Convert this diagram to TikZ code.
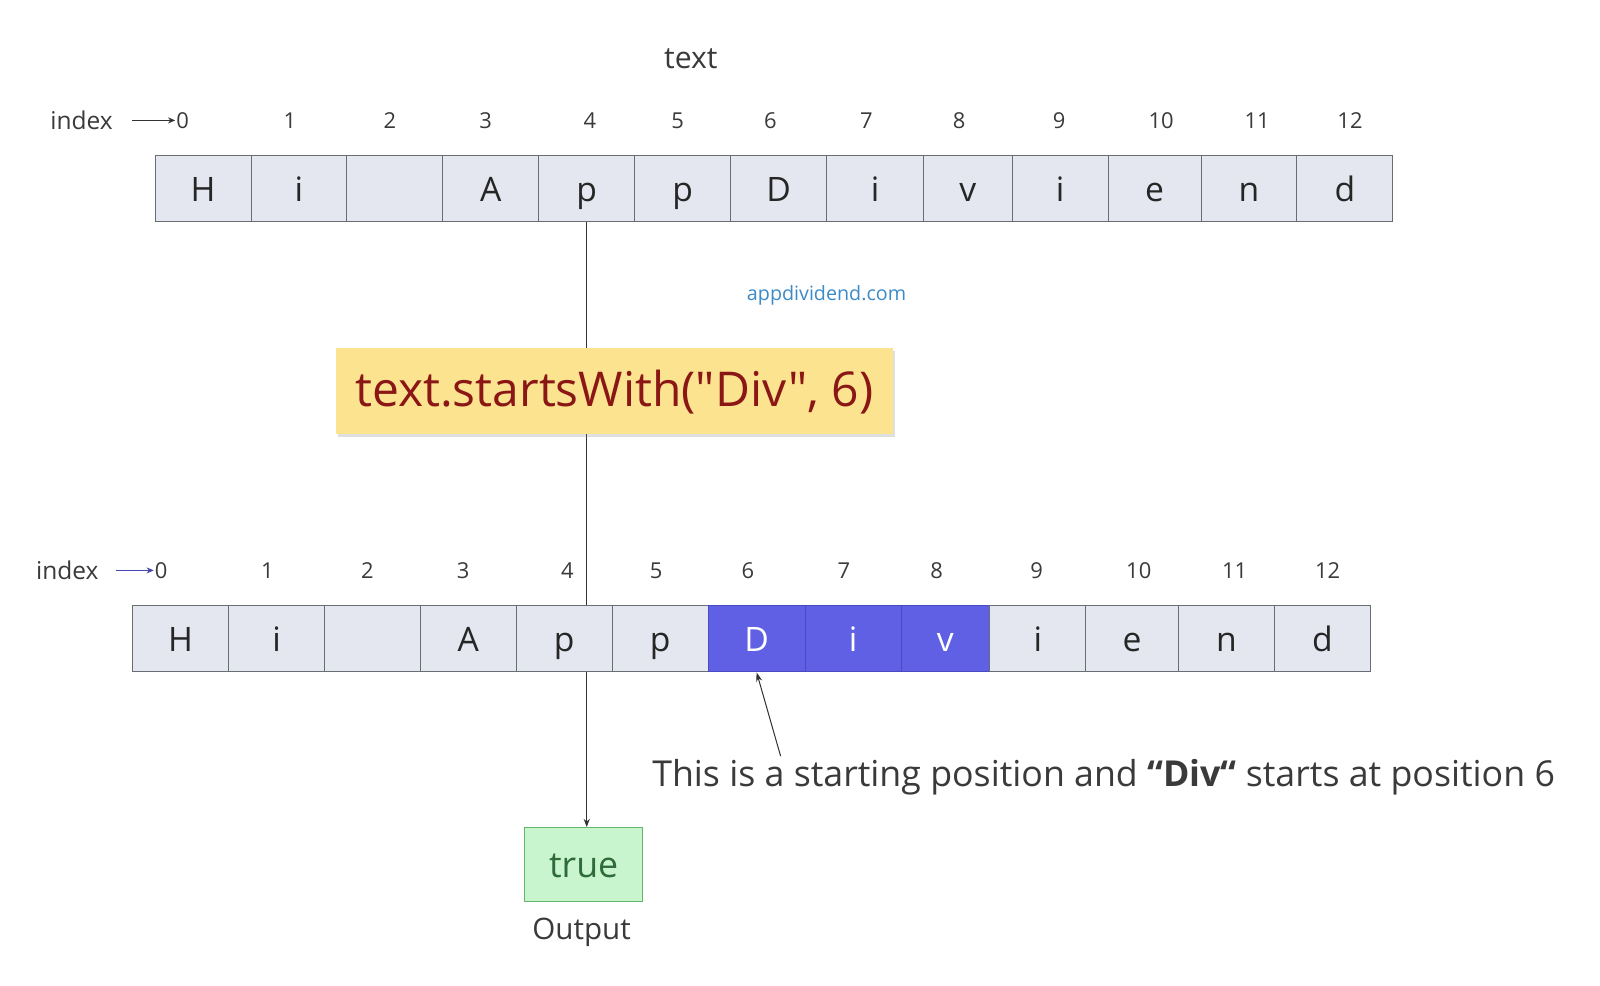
\documentclass[tikz,border=0pt]{standalone}
\usepackage{fontspec}
\setmainfont{Open Sans}
\newfontfamily\codefont{Open Sans}
\usetikzlibrary{arrows.meta,shadows,backgrounds}
\definecolor{cellfill}{HTML}{E4E7EF}
\definecolor{celldraw}{HTML}{686C73}
\definecolor{hifill}{HTML}{5F60E3}
\definecolor{hidraw}{HTML}{4A4BC4}
\definecolor{yelfill}{HTML}{FBE38F}
\definecolor{codered}{HTML}{8A1616}
\definecolor{grnfill}{HTML}{C8F5CE}
\definecolor{grndraw}{HTML}{62B56D}
\definecolor{grntext}{HTML}{2F6B38}
\definecolor{linkblue}{HTML}{3D8BC6}
\definecolor{txtgray}{HTML}{3A3A3A}
\definecolor{idxblue}{HTML}{4545B0}
\tikzset{
  cell/.style={draw=celldraw, line width=0.9pt, fill=cellfill, minimum height=65pt,
    inner sep=0pt, font=\fontsize{33}{33}\selectfont, text=black!85,
    text height=25pt, text depth=0pt},
  hicell/.style={cell, fill=hifill, draw=hidraw, text=white},
  idxnum/.style={font=\fontsize{21.5}{21.5}\selectfont, text=txtgray, inner sep=1pt},
  idxlbl/.style={font=\fontsize{24}{24}\selectfont, text=txtgray, inner sep=1pt},
  codebox/.style={fill=yelfill, minimum width=546pt, minimum height=84pt, inner sep=0pt,
    text=codered, font=\codefont\fontsize{47}{47}\selectfont,
    text height=30pt, text depth=0pt,
    drop shadow={opacity=0.25, shadow xshift=2pt, shadow yshift=-3pt}},
  outbox/.style={fill=grnfill, draw=grndraw, line width=1pt, minimum width=116pt,
    minimum height=72pt, inner sep=0pt, text=grntext, font=\fontsize{35}{35}\selectfont,
    text height=26pt, text depth=0pt},
  plain/.style={inner sep=1pt, text=txtgray},
  conn/.style={draw=black!80, line width=0.9pt},
}
\begin{document}
\begin{tikzpicture}[x=1pt,y=-1pt]
\useasboundingbox (0,0) rectangle (1568,966);
\begin{pgfonlayer}{background}
\fill[white] (0,0) rectangle (1568,966);
\end{pgfonlayer}

% title
\node[plain, font=\fontsize{29.5}{29.5}\selectfont] (title) at (677,58) {text};

% top row index
\node[idxlbl] (tidx) at (80,118) {index};
\foreach \i/\x in {0/179,1/284,2/382,3/476,4/578,5/664,6/755,7/849,8/940,9/1038,10/1138,11/1232,12/1323}{
  \node[idxnum] (tn\i) at (\x,118) {\i};
}
\draw[conn, line width=1pt, -{Stealth[length=7pt,width=6pt]}] ([xshift=18pt]tidx.east) -- (tn0.west);

% top row cells
\foreach \i/\a/\b/\c in {0/152/246/H,1/246/340/i,2/340/434/{},3/434/528/A,4/528/622/p,5/622/716/p,6/716/810/D,7/810/905/i,8/905/992/v,9/992/1086/i,10/1086/1177/e,11/1177/1271/n,12/1271/1365/d}{
  \pgfmathsetmacro\w{\b-\a}
  \pgfmathsetmacro\m{(\a+\b)/2}
  \node[cell, minimum width=\w pt] (t\i) at (\m,184.5) {\c};
}

% watermark
\node[plain, text=linkblue, font=\fontsize{19.3}{19.3}\selectfont] (wm) at (810,289) {appdividend.com};

% code box
\node[codebox] (code) at (602,383) {text.startsWith("Div", 6)};

% bottom row index
\node[idxlbl] (bidx) at (66,559) {index};
\foreach \i/\x in {0/158,1/262,2/360,3/454,4/556,5/643,6/733,7/827,8/918,9/1016,10/1116,11/1210,12/1301}{
  \node[idxnum] (bn\i) at (\x,559) {\i};
}
\draw[line width=1pt, draw=idxblue, -{Stealth[length=7pt,width=6pt]}] ([xshift=16pt]bidx.east) -- (bn0.west);

% bottom row cells
\foreach \i/\a/\b/\c/\s in {0/130/224/H/cell,1/224/318/i/cell,2/318/412/{}/cell,3/412/506/A/cell,4/506/600/p/cell,5/600/694/p/cell,6/694/789/D/hicell,7/789/883/i/hicell,8/883/970/v/hicell,9/970/1064/i/cell,10/1064/1155/e/cell,11/1155/1249/n/cell,12/1249/1343/d/cell}{
  \pgfmathsetmacro\w{\b-\a}
  \pgfmathsetmacro\m{(\a+\b)/2}
  \node[\s, minimum width=\w pt] (b\i) at (\m,626) {\c};
}

% output
\node[outbox] (out) at (572,847) {true};
\node[plain, font=\fontsize{29}{29}\selectfont] (outlbl) at (570,914) {Output};

% annotation
\node[plain, anchor=west, font=\fontsize{35}{35}\selectfont] (ann) at (638,762)
  {This is a starting position and \textbf{“Div“} starts at position 6};
\coordinate (anntail) at (765,741);
\draw[conn, line width=1pt, -{Stealth[length=9pt,width=6pt]}] (anntail) -- (b6.south);

% main connector behind everything
\begin{pgfonlayer}{background}
\draw[conn, line width=1pt, -{Stealth[length=8pt,width=6pt]}] (t4.south) -- (t4.south |- out.north);
\end{pgfonlayer}
\end{tikzpicture}
\end{document}
